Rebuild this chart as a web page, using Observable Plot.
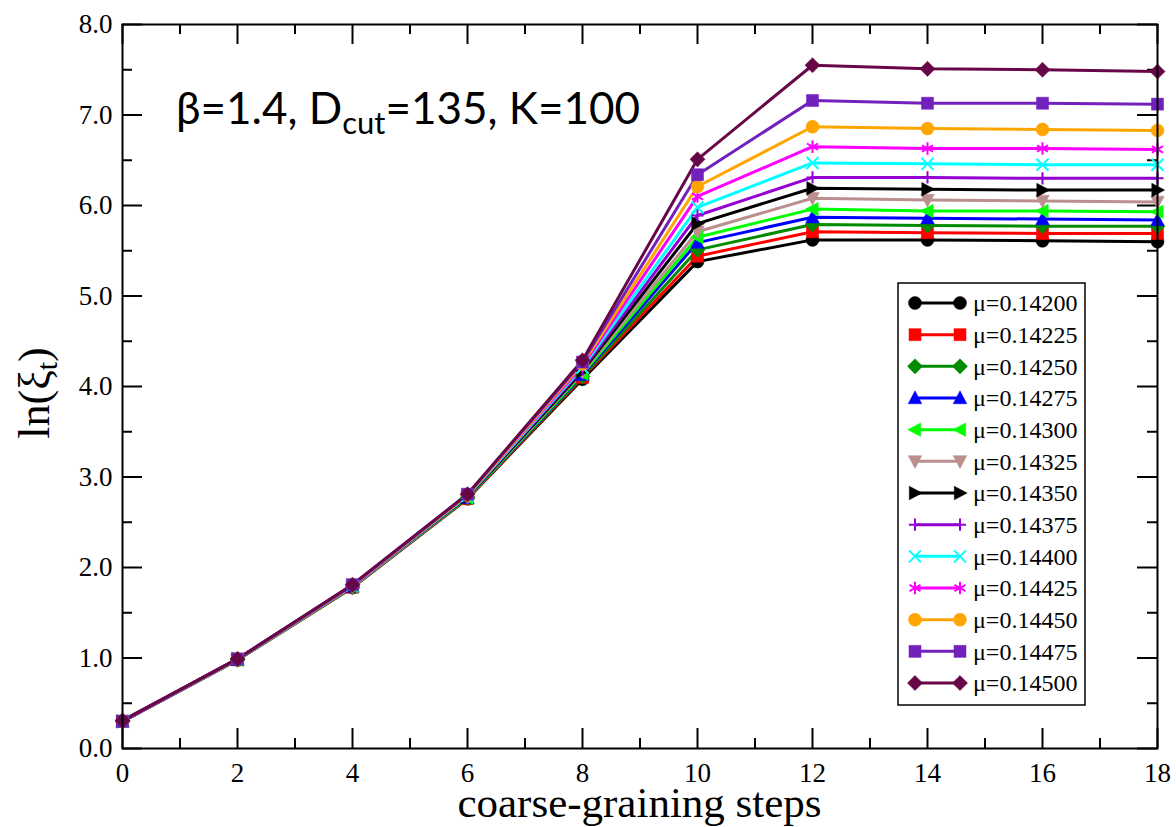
<!DOCTYPE html>
<html><head><meta charset="utf-8">
<script src="https://cdn.jsdelivr.net/npm/d3@7"></script>
<script src="https://cdn.jsdelivr.net/npm/@observablehq/plot@0.6"></script>
<style>
body{margin:0;background:#fff;}
#wrap{position:relative;width:1176px;height:827px;overflow:hidden;background:#fff;}
</style></head><body><div id="wrap"></div>
<script>
// ---- data ----
const steps = [0, 2, 4, 6, 8, 10, 12, 14, 16, 18];
const muLabels = ["μ=0.14200","μ=0.14225","μ=0.14250","μ=0.14275","μ=0.14300","μ=0.14325","μ=0.14350","μ=0.14375","μ=0.14400","μ=0.14425","μ=0.14450","μ=0.14475","μ=0.14500"];
const s14200 = [0.30, 0.98, 1.78, 2.76, 4.08, 5.38, 5.62, 5.62, 5.61, 5.60];
const s14225 = [0.30, 0.98, 1.78, 2.76, 4.10, 5.44, 5.71, 5.70, 5.69, 5.69];
const s14250 = [0.30, 0.98, 1.78, 2.77, 4.11, 5.51, 5.79, 5.78, 5.77, 5.77];
const s14275 = [0.30, 0.98, 1.79, 2.77, 4.13, 5.59, 5.87, 5.86, 5.85, 5.84];
const s14300 = [0.30, 0.98, 1.79, 2.77, 4.14, 5.65, 5.96, 5.94, 5.94, 5.93];
const s14325 = [0.30, 0.98, 1.79, 2.78, 4.16, 5.71, 6.08, 6.06, 6.05, 6.04];
const s14350 = [0.30, 0.99, 1.80, 2.78, 4.17, 5.80, 6.19, 6.18, 6.17, 6.17];
const s14375 = [0.30, 0.99, 1.80, 2.79, 4.19, 5.89, 6.31, 6.31, 6.30, 6.30];
const s14400 = [0.30, 0.99, 1.80, 2.79, 4.21, 5.98, 6.47, 6.46, 6.45, 6.45];
const s14425 = [0.30, 0.99, 1.80, 2.80, 4.23, 6.10, 6.65, 6.63, 6.63, 6.62];
const s14450 = [0.30, 0.99, 1.81, 2.80, 4.25, 6.21, 6.87, 6.85, 6.84, 6.83];
const s14475 = [0.30, 0.99, 1.81, 2.81, 4.27, 6.34, 7.16, 7.13, 7.13, 7.12];
const s14500 = [0.31, 0.99, 1.81, 2.81, 4.29, 6.51, 7.55, 7.51, 7.50, 7.48];
const seriesValues = [s14200,s14225,s14250,s14275,s14300,s14325,s14350,s14375,s14400,s14425,s14450,s14475,s14500];
const colors = ["#000000","#ff0000","#008b00","#0000ff","#00ff00","#bc8f8f","#000000","#9400d3","#00ffff","#ff00ff","#ffa500","#7221bc","#670748"];
const xTicks = [0, 2, 4, 6, 8, 10, 12, 14, 16, 18];
const xMinor = [1, 3, 5, 7, 9, 11, 13, 15, 17];
const yTicks = [0, 1, 2, 3, 4, 5, 6, 7, 8];
const yMinor = [0.5, 1.5, 2.5, 3.5, 4.5, 5.5, 6.5, 7.5];

// ---- custom symbols ----
const triUp = {draw(c, s){const r=Math.sqrt(s)*0.62; c.moveTo(0,-r); c.lineTo(r*0.95,r*0.8); c.lineTo(-r*0.95,r*0.8); c.closePath();}};
const triDown = {draw(c, s){const r=Math.sqrt(s)*0.62; c.moveTo(0,r); c.lineTo(r*0.95,-r*0.8); c.lineTo(-r*0.95,-r*0.8); c.closePath();}};
const triLeft = {draw(c, s){const r=Math.sqrt(s)*0.62; c.moveTo(-r,0); c.lineTo(r*0.8,-r*0.95); c.lineTo(r*0.8,r*0.95); c.closePath();}};
const triRight = {draw(c, s){const r=Math.sqrt(s)*0.62; c.moveTo(r,0); c.lineTo(-r*0.8,-r*0.95); c.lineTo(-r*0.8,r*0.95); c.closePath();}};
const symbolSpecs = [
  {sym:"circle", r:6.5, filled:true},
  {sym:"square", r:6.8, filled:true},
  {sym:"diamond2", r:6.8, filled:true},
  {sym:triUp, r:6.5, filled:true},
  {sym:triLeft, r:6.5, filled:true},
  {sym:triDown, r:6.5, filled:true},
  {sym:triRight, r:6.5, filled:true},
  {sym:"plus", r:4, filled:false},
  {sym:"times", r:5.5, filled:false},
  {sym:"asterisk", r:6, filled:false},
  {sym:"circle", r:6.5, filled:true},
  {sym:"square", r:6.8, filled:true},
  {sym:"diamond2", r:6.8, filled:true}
];

const W = 1176, H = 827, mL = 122, mR = 19, mT = 24, mB = 79;
const plotW = W - mL - mR, plotH = H - mT - mB;
const serif = "Liberation Serif, Times New Roman, serif";

const marks = [];
seriesValues.forEach((vals, i) => {
  const data = steps.map((s, j) => ({x: s, y: vals[j]}));
  marks.push(Plot.line(data, {x: "x", y: "y", stroke: colors[i], strokeWidth: 3}));
});
seriesValues.forEach((vals, i) => {
  const data = steps.map((s, j) => ({x: s, y: vals[j]}));
  const sp = symbolSpecs[i];
  marks.push(Plot.dot(data, {x: "x", y: "y", symbol: sp.sym, r: sp.r,
    fill: sp.filled ? colors[i] : "none", stroke: colors[i], strokeWidth: sp.filled ? 0.5 : 2}));
});

const chart = Plot.plot({
  width: W, height: H,
  marginLeft: mL, marginRight: mR, marginTop: mT, marginBottom: mB,
  style: {background: "#fff", overflow: "visible"},
  x: {domain: [0, 18]},
  y: {domain: [0, 8]},
  marks: [
    Plot.tickX(xTicks, {x: d => d, insetTop: plotH - 20, strokeWidth: 2}),
    Plot.tickX(xTicks, {x: d => d, insetBottom: plotH - 20, strokeWidth: 2}),
    Plot.tickX(xMinor, {x: d => d, insetTop: plotH - 10, strokeWidth: 2}),
    Plot.tickX(xMinor, {x: d => d, insetBottom: plotH - 10, strokeWidth: 2}),
    Plot.tickY(yTicks, {y: d => d, insetRight: plotW - 20, strokeWidth: 2}),
    Plot.tickY(yTicks, {y: d => d, insetLeft: plotW - 20, strokeWidth: 2}),
    Plot.tickY(yMinor, {y: d => d, insetRight: plotW - 10, strokeWidth: 2}),
    Plot.tickY(yMinor, {y: d => d, insetLeft: plotW - 10, strokeWidth: 2}),
    ...marks,
    Plot.frame({stroke: "#000", strokeWidth: 2}),
    Plot.axisX(xTicks, {tickSize: 0, tickPadding: 14, fontSize: 27, fontFamily: serif, fill: "#000", label: null}),
    Plot.axisY(yTicks, {tickSize: 0, tickPadding: 10, fontSize: 27, fontFamily: serif, fill: "#000", label: null, tickFormat: d3.format(".1f")})
  ]
});
document.getElementById("wrap").appendChild(chart);

const svg = d3.select(chart);
// x label
svg.append("text").attr("x", mL + plotW / 2).attr("y", 817).attr("text-anchor", "middle")
  .attr("font-family", serif).attr("font-size", 43).attr("fill", "#000").text("coarse-graining steps");
// y label
const yl = svg.append("text").attr("transform", "translate(49,393) rotate(-90)")
  .attr("text-anchor", "middle").attr("font-family", serif).attr("font-size", 44).attr("fill", "#000");
yl.append("tspan").text("ln(ξ");
yl.append("tspan").attr("font-size", 30).attr("dy", 8).text("t");
yl.append("tspan").attr("dy", -8).text(")");
// annotation
const tt = svg.append("text").attr("x", 176).attr("y", 124).attr("text-anchor", "start")
  .attr("font-family", "Lato, Open Sans, sans-serif").attr("font-size", 44).attr("fill", "#000");
tt.append("tspan").text("β=1.4, D");
tt.append("tspan").attr("font-size", 31).attr("dy", 10).text("cut");
tt.append("tspan").attr("dy", -10).text("=135, K=100");

// legend
const lg = svg.append("g").attr("transform", "translate(898,283)");
lg.append("rect").attr("x", 0).attr("y", 0).attr("width", 187).attr("height", 422)
  .attr("fill", "#fff").attr("stroke", "#000").attr("stroke-width", 1.5);
muLabels.forEach((lab, i) => {
  const cy = 20 + i * 31.67;
  const sp = symbolSpecs[i];
  const type = typeof sp.sym === "string" ? d3["symbol" + sp.sym[0].toUpperCase() + sp.sym.slice(1)] : sp.sym;
  lg.append("line").attr("x1", 17).attr("x2", 62).attr("y1", cy).attr("y2", cy)
    .attr("stroke", colors[i]).attr("stroke-width", 3);
  const path = d3.symbol(type, Math.PI * sp.r * sp.r)();
  [17, 62].forEach(cx => {
    lg.append("path").attr("d", path).attr("transform", `translate(${cx},${cy})`)
      .attr("fill", sp.filled ? colors[i] : "none").attr("stroke", colors[i])
      .attr("stroke-width", sp.filled ? 0.5 : 2);
  });
  lg.append("text").attr("x", 75).attr("y", cy).attr("dy", "0.35em").attr("text-anchor", "start")
    .attr("font-family", serif).attr("font-size", 24).attr("fill", "#000").text(lab);
});
</script></body></html>
